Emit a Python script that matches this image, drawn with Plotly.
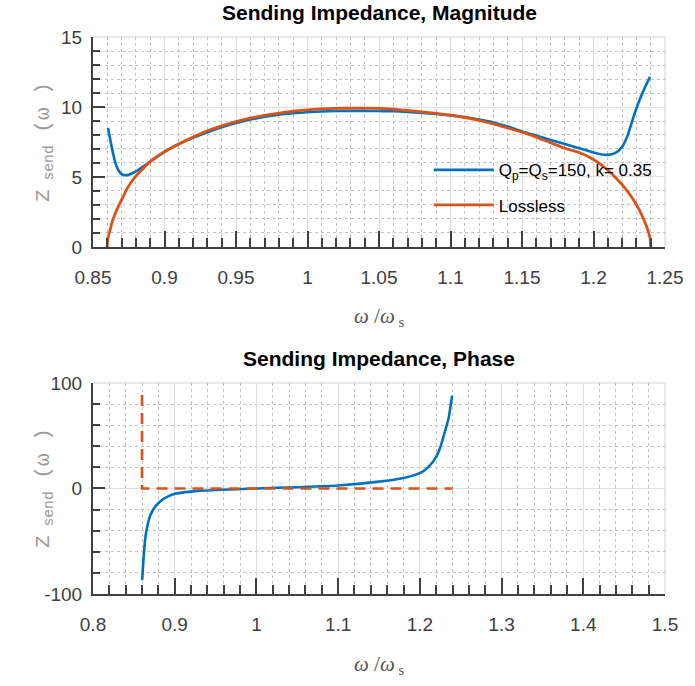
import plotly.graph_objects as go

# ---------------- data ----------------
mag_lossy_x = [0.8605, 0.862, 0.864, 0.866, 0.868, 0.870, 0.873, 0.876, 0.880, 0.885, 0.890, 0.895,
               0.900, 0.91, 0.92, 0.93, 0.94, 0.95, 0.96, 0.97, 0.98, 0.99, 1.00, 1.01, 1.02, 1.03,
               1.04, 1.05, 1.06, 1.07, 1.08, 1.09, 1.10, 1.11, 1.12, 1.13, 1.14, 1.15, 1.16, 1.17,
               1.18, 1.19, 1.20, 1.205, 1.21, 1.215, 1.22, 1.224, 1.228, 1.232, 1.236, 1.2395]
mag_lossy_y = [8.5, 7.7, 6.7, 5.9, 5.45, 5.2, 5.12, 5.2, 5.4, 5.75, 6.1, 6.45,
               6.8, 7.35, 7.8, 8.2, 8.55, 8.85, 9.1, 9.3, 9.45, 9.55, 9.63, 9.68, 9.71, 9.72,
               9.72, 9.71, 9.7, 9.65, 9.58, 9.5, 9.4, 9.27, 9.1, 8.9, 8.6, 8.25, 7.95, 7.65,
               7.35, 7.05, 6.75, 6.62, 6.58, 6.7, 7.15, 8.0, 9.3, 10.45, 11.4, 12.15]

mag_lossless_x = [0.86, 0.8602, 0.8608, 0.8617, 0.863, 0.865, 0.8675, 0.870, 0.8735, 0.8775, 0.885,
                  0.89, 0.90, 0.91, 0.92, 0.93, 0.94, 0.95, 0.96, 0.97, 0.98, 0.99, 1.00, 1.01,
                  1.02, 1.03, 1.04, 1.05, 1.06, 1.07, 1.08, 1.09, 1.10, 1.11, 1.12, 1.13, 1.14,
                  1.15, 1.16, 1.17, 1.18, 1.19, 1.20, 1.21, 1.215, 1.22, 1.225, 1.228, 1.232,
                  1.235, 1.237, 1.2385, 1.2395, 1.24]
mag_lossless_y = [0.0, 0.45, 0.8, 1.1, 1.65, 2.25, 2.85, 3.36, 4.1, 4.75, 5.6,
                  6.1, 6.8, 7.35, 7.85, 8.3, 8.65, 8.95, 9.2, 9.4, 9.57, 9.7, 9.8, 9.86,
                  9.9, 9.92, 9.92, 9.9, 9.84, 9.75, 9.65, 9.55, 9.42, 9.25, 9.05, 8.8, 8.5,
                  8.2, 7.85, 7.45, 7.05, 6.75, 6.25, 5.5, 5.0, 4.45, 3.8, 3.35, 2.65,
                  2.0, 1.5, 1.05, 0.65, 0.0]

ph_lossy_x = [0.8602, 0.861, 0.8624, 0.864, 0.8664, 0.8704, 0.8764, 0.8844, 0.892, 0.90, 0.92,
              0.95, 1.00, 1.05, 1.10, 1.15, 1.18, 1.20, 1.21, 1.22, 1.225, 1.23, 1.235, 1.2395]
ph_lossy_y = [-87, -76, -61, -47, -36, -25, -17, -11, -7.5, -5, -3,
              -1.5, 0, 1.2, 2.8, 6.5, 10, 14.5, 20, 30, 39, 52, 66, 88]

ph_lossless_x = [0.86, 0.86, 1.24]
ph_lossless_y = [88.6, 0, 0]

legend_names = ["Q<sub>p</sub>=Q<sub>s</sub>=150, k= 0.35", "Lossless"]
titles = ["Sending Impedance, Magnitude", "Sending Impedance, Phase"]

mag_xticks = [0.85, 0.9, 0.95, 1, 1.05, 1.1, 1.15, 1.2, 1.25]
mag_xtext = ["0.85", "0.9", "0.95", "1", "1.05", "1.1", "1.15", "1.2", "1.25"]
mag_yticks = [0, 5, 10, 15]
mag_ytext = ["0", "5", "10", "15"]
ph_xticks = [0.8, 0.9, 1, 1.1, 1.2, 1.3, 1.4, 1.5]
ph_xtext = ["0.8", "0.9", "1", "1.1", "1.2", "1.3", "1.4", "1.5"]
ph_yticks = [-100, 0, 100]
ph_ytext = ["-100", "0", "100"]

# ---------------- styling ----------------
BLUE = "#0072BD"
ORANGE = "#D95319"
AX = "#404040"
SANS = "Liberation Sans, Arial, sans-serif"
MONO = "Liberation Mono, DejaVu Sans Mono, Courier New, monospace"
GRID = "#dedede"
MGRID = "#c4c4c4"

fig = go.Figure()
fig.add_trace(go.Scatter(x=mag_lossy_x, y=mag_lossy_y, mode="lines", name=legend_names[0],
                         legendgroup="a",
                         line=dict(color=BLUE, width=2.6, shape="spline", smoothing=0.6),
                         xaxis="x", yaxis="y"))
fig.add_trace(go.Scatter(x=mag_lossless_x, y=mag_lossless_y, mode="lines", name=legend_names[1],
                         legendgroup="b",
                         line=dict(color=ORANGE, width=2.8, shape="spline", smoothing=0.6),
                         xaxis="x", yaxis="y"))
fig.add_trace(go.Scatter(x=ph_lossy_x, y=ph_lossy_y, mode="lines", showlegend=False,
                         line=dict(color=BLUE, width=2.6, shape="spline", smoothing=0.6),
                         xaxis="x2", yaxis="y2"))
fig.add_trace(go.Scatter(x=ph_lossless_x, y=ph_lossless_y, mode="lines", showlegend=False,
                         line=dict(color=ORANGE, width=2.6, dash="11px,7px"), xaxis="x2", yaxis="y2"))


def axis(rng, tv, tt, mdtick, domain, anchor, ticklen, mticklen, standoff):
    return dict(
        range=rng, tickmode="array", tickvals=tv, ticktext=tt, domain=domain, anchor=anchor,
        showline=True, linecolor=AX, linewidth=2,
        ticks="inside", ticklen=ticklen, tickwidth=1.5, tickcolor=AX,
        showgrid=True, gridcolor=GRID, gridwidth=1.2,
        zeroline=False,
        tickfont=dict(family=SANS, size=19, color=AX),
        ticklabelstandoff=standoff,
        minor=dict(dtick=mdtick, tick0=rng[0], ticks="inside", ticklen=mticklen, tickwidth=1.5,
                   tickcolor=AX, showgrid=True, gridcolor=MGRID, griddash="dot", gridwidth=1),
        fixedrange=True,
    )


top_dom = [0.623, 1.0]
bot_dom = [0.0, 0.379]

fig.update_layout(
    width=695, height=686, autosize=False,
    margin=dict(l=93, r=19, t=37, b=92),
    paper_bgcolor="white", plot_bgcolor="white",
    xaxis=axis([0.85, 1.25], mag_xticks, mag_xtext, 0.01, [0, 1], "y", 16, 9, 12),
    yaxis=axis([0, 15], mag_yticks, mag_ytext, 1, top_dom, "x", 12, 7, 5),
    xaxis2=axis([0.8, 1.5], ph_xticks, ph_xtext, 0.02, [0, 1], "y2", 16, 9, 12),
    yaxis2=axis([-100, 100], ph_yticks, ph_ytext, 20, bot_dom, "x2", 12, 7, 5),
    legend=dict(x=0.587, y=0.793, xanchor="left", yanchor="top", bgcolor="rgba(0,0,0,0)",
                font=dict(family=SANS, size=17, color="black"), tracegroupgap=10,
                itemwidth=60, traceorder="grouped"),
    showlegend=True,
)

# light box edges (top & right)
for xr, yr in (("x domain", "y domain"), ("x2 domain", "y2 domain")):
    fig.add_shape(type="line", xref=xr, yref=yr, x0=0, x1=1, y0=1, y1=1,
                  line=dict(color="#e0e0e0", width=1.5), layer="below")
    fig.add_shape(type="line", xref=xr, yref=yr, x0=1, x1=1, y0=0, y1=1,
                  line=dict(color="#e0e0e0", width=1.5), layer="below")

H = 557.0
def py(p):
    return (594 - p) / H

# titles
for t, p in zip(titles, (13, 358)):
    fig.add_annotation(text="<b>%s</b>" % t, xref="paper", yref="paper", x=0.5, y=py(p),
                       xanchor="center", yanchor="middle", showarrow=False,
                       font=dict(family=SANS, size=21, color="black"))

# x labels
for p in (317, 665):
    fig.add_annotation(text="<i>ω</i> /<i>ω</i><sub> s</sub>", xref="paper", yref="paper", x=0.5,
                       y=py(p), xanchor="center", yanchor="middle", showarrow=False,
                       font=dict(family="Liberation Serif, DejaVu Serif, serif", size=21, color="#555555"))

# y labels
for p in (142, 488):
    fig.add_annotation(text="Z<sub> send</sub> (ω )", xref="paper", yref="paper",
                       x=(43 - 93) / 583.0, y=py(p), xanchor="center", yanchor="middle",
                       textangle=-90, showarrow=False,
                       font=dict(family=MONO, size=21, color="#999999"))

fig.write_html("out.html")
